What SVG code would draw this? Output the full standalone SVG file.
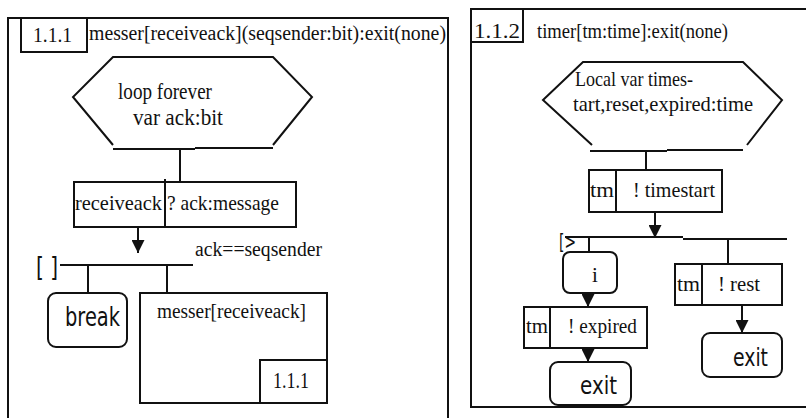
<svg xmlns="http://www.w3.org/2000/svg" width="806" height="418" viewBox="0 0 806 418">
  <style>
    .ln { stroke: #111; stroke-width: 2; fill: none; }
    .box { stroke: #111; stroke-width: 2; fill: #fff; }
    .serif { font-family: "Liberation Serif", "Times New Roman", serif; fill: #111; }
    .sans { font-family: "DejaVu Sans", "Liberation Sans", sans-serif; fill: #111; }
  </style>
  <defs>
    <marker id="arrow" viewBox="0 0 12 12" refX="12" refY="6" markerWidth="13" markerHeight="13" orient="auto" markerUnits="userSpaceOnUse">
      <path d="M0,0 L12,6 L0,12 z" fill="#111"/>
    </marker>
  </defs>
  <rect width="806" height="418" fill="#fff"/>

  <!-- left process: messer -->
  <g id="frame-messer">
    <path class="ln" d="M8,420 V18 H448 V420"/>
    <rect class="box" x="21" y="18" width="66" height="34"/>
    <text class="serif" x="33" y="42" font-size="21" textLength="39" lengthAdjust="spacingAndGlyphs">1.1.1</text>
    <text class="serif" x="89" y="40" font-size="20" textLength="357" lengthAdjust="spacingAndGlyphs">messer[receiveack](seqsender:bit):exit(none)</text>
  </g>

  <g id="loop-messer">
    <polyline class="ln" points="113,145 73,97 113,57 273,57 312,97 273,145" stroke-width="1.6"/>
    <path class="ln" d="M113,149 H195 M195,148 H273" stroke-width="2.5"/>
    <text class="serif" x="118" y="99" font-size="23" textLength="94" lengthAdjust="spacingAndGlyphs">loop forever</text>
    <text class="serif" x="133" y="125" font-size="23" textLength="90" lengthAdjust="spacingAndGlyphs">var ack:bit</text>
  </g>

  <g id="receive-ack">
    <rect class="box" x="74" y="182" width="222" height="45"/>
    <line class="ln" x1="165" y1="179" x2="165" y2="227"/>
    <text class="serif" x="75" y="210" font-size="21" textLength="87" lengthAdjust="spacingAndGlyphs">receiveack</text>
    <text class="serif" x="167" y="210" font-size="21" textLength="112" lengthAdjust="spacingAndGlyphs">? ack:message</text>
  </g>

  <g id="choice-messer">
    <text class="sans" x="36" y="276" font-size="27" textLength="22" lengthAdjust="spacingAndGlyphs">[ ]</text>
    <text class="serif" x="195" y="256" font-size="20" textLength="127" lengthAdjust="spacingAndGlyphs">ack==seqsender</text>
  </g>

  <g id="break">
    <rect class="box" x="48" y="293" width="79" height="54" rx="8"/>
    <text class="sans" x="65" y="326" font-size="27" textLength="55" lengthAdjust="spacingAndGlyphs">break</text>
  </g>

  <g id="messer-recursive">
    <rect class="box" x="140" y="293" width="187" height="110"/>
    <text class="serif" x="157" y="318" font-size="20" textLength="149" lengthAdjust="spacingAndGlyphs">messer[receiveack]</text>
    <rect class="box" x="260" y="360" width="67" height="43"/>
    <text class="serif" x="273" y="388" font-size="23" textLength="36" lengthAdjust="spacingAndGlyphs">1.1.1</text>
  </g>

  <!-- right process: timer -->
  <g id="frame-timer">
    <path class="ln" d="M808,9 H471 V407 H808"/>
    <rect class="box" x="471" y="9" width="52" height="33"/>
    <text class="serif" x="474" y="38" font-size="21" textLength="46" lengthAdjust="spacingAndGlyphs">1.1.2</text>
    <text class="serif" x="537" y="38" font-size="20" textLength="191" lengthAdjust="spacingAndGlyphs">timer[tm:time]:exit(none)</text>
  </g>

  <g id="locals-timer">
    <polyline class="ln" points="592,145 543,100 583,62 743,62 782,100 747,145" stroke-width="1.6"/>
    <path class="ln" d="M590,151 H667 M667,150 H743" stroke-width="2.5"/>
    <text class="serif" x="575" y="86" font-size="22" textLength="118" lengthAdjust="spacingAndGlyphs">Local var times-</text>
    <text class="serif" x="573" y="111" font-size="22" textLength="180" lengthAdjust="spacingAndGlyphs">tart,reset,expired:time</text>
  </g>

  <g id="send-timestart">
    <rect class="box" x="589" y="170" width="133" height="42"/>
    <line class="ln" x1="616" y1="170" x2="616" y2="212"/>
    <text class="serif" x="590" y="197" font-size="21" textLength="24" lengthAdjust="spacingAndGlyphs">tm</text>
    <text class="serif" x="633" y="197" font-size="21" textLength="82" lengthAdjust="spacingAndGlyphs">! timestart</text>
  </g>

  <g id="disable-timer">
    <text class="sans" x="559" y="249" font-size="21" textLength="17" lengthAdjust="spacingAndGlyphs">[&gt;</text>
  </g>

  <g id="internal-i">
    <rect class="box" x="563" y="252" width="54" height="41" rx="7"/>
    <text class="serif" x="595" y="282" font-size="21" text-anchor="middle">i</text>
  </g>

  <g id="send-expired">
    <rect class="box" x="524" y="307" width="123" height="41"/>
    <line class="ln" x1="550" y1="307" x2="550" y2="348"/>
    <text class="serif" x="526" y="333" font-size="21" textLength="22" lengthAdjust="spacingAndGlyphs">tm</text>
    <text class="serif" x="568" y="333" font-size="21" textLength="69" lengthAdjust="spacingAndGlyphs">! expired</text>
  </g>

  <g id="exit-expired">
    <rect class="box" x="550" y="362" width="81" height="43" rx="8"/>
    <text class="sans" x="580" y="394" font-size="25" textLength="37" lengthAdjust="spacingAndGlyphs">exit</text>
  </g>

  <g id="send-rest">
    <rect class="box" x="675" y="264" width="107" height="41"/>
    <line class="ln" x1="702" y1="264" x2="702" y2="305"/>
    <text class="serif" x="677" y="291" font-size="21" textLength="23" lengthAdjust="spacingAndGlyphs">tm</text>
    <text class="serif" x="718" y="291" font-size="21" textLength="42" lengthAdjust="spacingAndGlyphs">! rest</text>
  </g>

  <g id="exit-rest">
    <rect class="box" x="702" y="333" width="80" height="44" rx="8"/>
    <text class="sans" x="733" y="366" font-size="25" textLength="35" lengthAdjust="spacingAndGlyphs">exit</text>
  </g>

  <!-- connectors -->
  <g id="connectors" class="ln">
    <line x1="180" y1="149" x2="180" y2="182"/>
    <line x1="138" y1="227" x2="138" y2="253" marker-end="url(#arrow)"/>
    <line x1="60" y1="265" x2="193" y2="265"/>
    <line x1="88" y1="265" x2="88" y2="293"/>
    <line x1="167" y1="265" x2="167" y2="293"/>

    <line x1="646" y1="151" x2="646" y2="170"/>
    <line x1="655" y1="212" x2="655" y2="238" marker-end="url(#arrow)"/>
    <path d="M565,237 H683 M683,239 H787"/>
    <line x1="589" y1="237" x2="589" y2="252"/>
    <line x1="728" y1="239" x2="728" y2="264"/>
    <line x1="588" y1="293" x2="588" y2="307" marker-end="url(#arrow)"/>
    <line x1="588" y1="348" x2="588" y2="362" marker-end="url(#arrow)"/>
    <line x1="742" y1="305" x2="742" y2="333" marker-end="url(#arrow)"/>
  </g>
</svg>
